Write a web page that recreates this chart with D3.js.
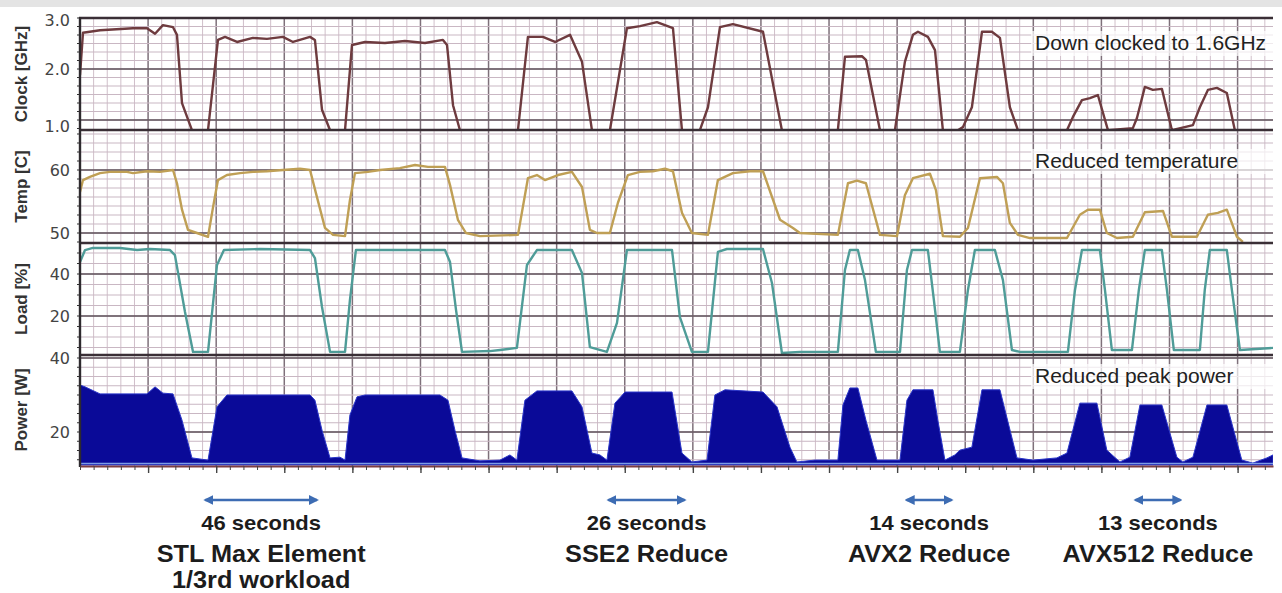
<!DOCTYPE html>
<html>
<head>
<meta charset="utf-8">
<script src="https://cdn.jsdelivr.net/npm/d3@7"></script>
<style>
body { margin: 0; background: #fff; }
svg { display: block; font-family: "Liberation Sans", Arial, sans-serif; }
</style>
</head>
<body>
<script>
// time is in grid units (one minor vertical grid step each)
var clockPts = [[0,1.88],[0.22,2.71],[1.47,2.76],[3.89,2.80],[4.92,2.80],[5.51,2.69],[6.09,2.86],[6.83,2.82],[7.12,2.67],[7.49,1.33],[8.22,0.80],
  [9.40,0.80],[10.13,2.57],[10.65,2.63],[11.53,2.53],[12.70,2.61],[13.73,2.59],[14.90,2.63],[15.64,2.53],[16.89,2.63],[17.25,2.57],[17.77,1.20],[18.36,0.80],
  [19.46,0.80],[19.97,2.47],[20.93,2.53],[22.39,2.51],[23.86,2.55],[25.33,2.51],[26.65,2.57],[26.95,2.47],[27.39,1.29],[27.90,0.80],
  [32.16,0.80],[32.89,2.63],[33.99,2.63],[34.88,2.53],[35.98,2.67],[36.86,2.14],[37.59,0.80],
  [38.91,0.80],[40.16,2.80],[41.12,2.84],[42.36,2.92],[43.54,2.80],[44.20,0.80],
  [45.52,0.80],[46.11,1.25],[46.99,2.82],[47.94,2.88],[50.15,2.73],[51.54,0.80],
  [55.65,0.80],[56.17,2.24],[57.42,2.25],[57.71,2.18],[58.74,0.80],
  [59.84,0.80],[60.57,2.14],[61.16,2.67],[61.53,2.73],[62.26,2.63],[62.78,2.37],[63.36,0.80],
  [64.46,0.80],[64.83,0.86],[65.49,1.25],[66.23,2.73],[66.96,2.73],[67.55,2.61],[68.28,1.25],[68.87,0.80],
  [72.47,0.80],[72.91,1.06],[73.57,1.39],[74.16,1.43],[74.74,1.49],[75.48,0.80],
  [77.31,0.84],[77.61,1.04],[78.19,1.65],[78.78,1.59],[79.44,1.61],[80.18,0.80],
  [81.72,0.90],[82.23,1.25],[82.82,1.59],[83.48,1.63],[84.21,1.53],[84.80,0.80],[87.6,0.80]];

var tempPts = [[0,56.5],[0.22,58.4],[0.73,58.9],[1.47,59.5],[2.20,59.7],[3.45,59.7],[3.89,59.5],[4.92,59.8],[5.87,59.7],[6.83,60.0],[7.12,57.9],[7.49,53.7],[7.93,50.5],[8.59,50.0],
  [9.40,49.4],[9.77,54.1],[10.13,58.4],[10.79,59.2],[11.75,59.5],[12.70,59.7],[13.73,59.8],[14.90,60.0],[16.15,60.2],[16.89,60.0],[17.40,55.7],[17.99,50.8],[18.58,49.7],
  [19.46,49.5],[19.82,55.2],[20.19,59.5],[21.15,59.7],[22.03,60.0],[23.49,60.3],[24.60,60.8],[25.55,60.5],[26.80,60.5],[27.17,57.6],[27.75,52.1],[28.34,50.0],[29.37,49.5],
  [32.16,49.7],[32.89,58.7],[33.55,59.2],[34.14,58.4],[35.10,59.2],[36.12,59.7],[36.86,57.3],[37.44,50.5],[37.96,50.0],
  [38.91,50.0],[39.50,54.8],[40.23,59.2],[41.12,59.7],[42.07,59.8],[42.95,60.2],[43.54,59.8],[44.20,53.2],[44.93,50.0],
  [46.11,49.7],[46.84,58.4],[47.94,59.5],[49.19,59.8],[50.15,59.8],[51.40,52.1],[52.35,50.8],[52.86,50.0],
  [55.65,49.7],[56.39,57.9],[57.05,58.3],[57.71,57.9],[58.74,49.7],
  [59.99,49.5],[60.57,56.0],[61.16,58.7],[62.41,59.4],[62.85,56.8],[63.36,49.5],
  [64.61,49.4],[65.20,50.8],[66.08,58.7],[67.33,58.9],[67.77,57.9],[68.28,51.6],[68.87,49.7],[69.75,49.2],
  [72.47,49.2],[73.42,52.9],[74.01,53.7],[74.89,53.7],[75.40,50.0],[76.14,49.2],
  [77.31,49.4],[78.19,53.3],[79.52,53.5],[80.18,49.4],
  [82.01,49.4],[82.82,52.9],[83.55,53.2],[84.21,53.7],[84.95,49.4],[85.39,48.6]];

var loadPts = [[0,45.7],[0.37,51.4],[0.95,52.4],[2.94,52.4],[4.19,51.4],[5.14,51.9],[6.61,51.4],[6.97,49.0],[7.71,21.9],[8.30,2.9],
  [9.40,2.9],[10.06,44.3],[10.57,51.4],[13.22,51.9],[16.89,51.4],[17.25,47.6],[17.77,24.3],[18.36,2.9],
  [19.46,2.9],[19.82,27.6],[20.26,51.4],[23.49,51.4],[26.80,51.4],[27.17,45.7],[27.61,22.9],[28.05,2.9],
  [30.10,3.3],[30.84,3.8],[32.08,4.8],[32.82,44.3],[33.55,51.4],[36.12,51.4],[36.86,40.5],[37.44,5.2],
  [38.69,2.9],[39.43,16.7],[40.16,51.4],[43.47,51.4],[44.05,19.5],[44.93,2.9],
  [46.11,2.9],[46.84,50.5],[47.50,51.9],[50.15,51.9],[50.81,35.7],[51.54,2.4],
  [52.86,2.9],[55.65,2.9],[56.17,41.9],[56.53,51.4],[57.12,51.4],[57.64,37.1],[58.44,2.9],
  [60.21,2.9],[60.72,41.9],[61.09,51.4],[62.26,51.4],[62.70,27.6],[63.14,2.9],
  [64.61,2.9],[65.20,32.4],[65.71,51.4],[67.18,51.4],[67.77,37.1],[68.43,3.8],[69.02,2.9],
  [72.54,2.9],[73.06,32.4],[73.57,51.4],[74.89,51.4],[75.26,32.4],[75.77,3.8],
  [77.24,3.8],[77.75,32.4],[78.19,51.4],[79.44,51.4],[79.81,32.4],[80.32,3.8],
  [82.23,3.8],[82.59,32.4],[82.96,51.4],[84.21,51.4],[84.58,32.4],[85.17,3.8],[87.6,4.8]];

var powerPts = [[0,32.7],[0.37,32.2],[1.47,30.3],[4.92,30.3],[5.51,32.2],[6.09,30.5],[6.83,30.3],[7.49,23.2],[8.22,13.0],
  [9.40,12.4],[10.06,26.8],[10.79,30.0],[16.89,30.0],[17.25,28.6],[17.77,20.5],[18.36,13.0],[19.09,13.2],
  [19.46,12.4],[19.82,24.6],[20.34,29.5],[20.93,30.0],[26.43,30.0],[27.02,28.6],[27.53,20.5],[28.05,13.0],
  [29.37,12.2],[30.84,12.4],[31.57,13.8],[32.08,12.4],[32.67,28.6],[33.55,31.1],[36.12,31.1],[36.86,26.8],[37.59,14.3],[38.18,13.8],
  [38.69,12.4],[39.28,27.8],[40.02,30.8],[43.47,30.8],[44.20,14.3],[44.93,11.9],
  [46.04,12.4],[46.62,30.0],[47.36,31.4],[50.15,30.8],[51.18,26.8],[52.13,15.9],[52.64,11.9],
  [53.96,12.4],[55.65,12.4],[56.02,27.3],[56.53,31.9],[57.12,31.9],[57.71,23.2],[58.52,12.4],
  [60.21,12.4],[60.72,28.6],[61.16,31.4],[62.63,31.4],[62.99,23.2],[63.51,12.4],
  [64.24,13.8],[64.61,15.1],[65.49,15.9],[66.23,31.4],[67.55,31.4],[68.80,13.0],
  [69.97,12.4],[71.73,13.0],[72.47,14.3],[73.42,27.8],[74.67,27.8],[75.40,15.1],[76.36,11.9],
  [77.09,13.2],[77.83,27.3],[79.44,27.3],[80.54,13.2],[80.98,11.9],
  [81.72,13.2],[82.75,27.3],[84.21,27.3],[85.31,12.4],[86.12,11.6],[87.15,13.0],[87.6,13.8]];

var clockTicks = [1, 2, 3];
var tempTicks = [50, 60];
var loadTicks = [20, 40];
var powerTicks = [20, 40];

var panelTitles = ["Clock [GHz]", "Temp [C]", "Load [%]", "Power [W]"];
var panelNotes = ["Down clocked to 1.6GHz", "Reduced temperature", "", "Reduced peak power"];

var spanStart = [9.2, 38.8, 60.7, 77.5];
var spanEnd = [17.4, 44.4, 64.0, 80.8];
var spanDurations = ["46 seconds", "26 seconds", "14 seconds", "13 seconds"];
var spanTitles = [["STL Max Element", "1/3rd workload"], ["SSE2 Reduce"], ["AVX2 Reduce"], ["AVX512 Reduce"]];

var W = 1282, H = 593;
var left = 80, right = 1273;

var svg = d3.select("body").append("svg")
  .attr("width", W)
  .attr("height", H);

svg.append("rect").attr("width", W).attr("height", 7).attr("fill", "#e4e4e4");

var x = d3.scaleLinear().domain([0, 87.6]).range([left, right]);

var panels = [
  {top: 18, bottom: 130, y: d3.scaleLinear().domain([1, 3]).range([120, 18]), ticks: clockTicks, fmt: d3.format(".1f"), step: 1/6},
  {top: 130, bottom: 243, y: d3.scaleLinear().domain([50, 60]).range([233, 170]), ticks: tempTicks, fmt: d3.format("d"), step: 10/7},
  {top: 243, bottom: 355, y: d3.scaleLinear().domain([20, 40]).range([316, 274]), ticks: loadTicks, fmt: d3.format("d"), step: 5},
  {top: 355, bottom: 465, y: d3.scaleLinear().domain([20, 40]).range([432, 358]), ticks: powerTicks, fmt: d3.format("d"), step: 2.5}
];

var grid = svg.append("g");

// vertical grid, darker every fifth line
grid.selectAll(".vminor")
  .data(d3.range(1, 88))
  .enter().append("line")
    .attr("x1", d => x(d)).attr("x2", d => x(d))
    .attr("y1", 18).attr("y2", 466)
    .attr("stroke", d => d % 5 == 0 ? "#7e707a" : "#d0bfca")
    .attr("stroke-width", d => d % 5 == 0 ? 1.5 : 1);

panels.forEach(function(p, i) {
  var lo = p.y.invert(p.bottom), hi = p.y.invert(p.top);
  var vals = [];
  for (var v = Math.ceil(lo / p.step) * p.step; v <= hi + 1e-6; v += p.step) vals.push(v);

  // minor horizontal grid
  grid.selectAll(".h" + i)
    .data(vals.filter(v => Math.abs(p.y(v) - p.top) > 2 && Math.abs(p.y(v) - p.bottom) > 2))
    .enter().append("line")
      .attr("x1", left).attr("x2", right)
      .attr("y1", d => p.y(d)).attr("y2", d => p.y(d))
      .attr("stroke", "#c9b7c3");

  // darker lines on labelled values
  grid.selectAll(".hm" + i)
    .data(p.ticks.filter(v => p.y(v) > p.top + 2 && p.y(v) < p.bottom - 2))
    .enter().append("line")
      .attr("x1", left).attr("x2", right)
      .attr("y1", d => p.y(d)).attr("y2", d => p.y(d))
      .attr("stroke", "#5e5058")
      .attr("stroke-width", 1.6);

  // small left ticks
  svg.selectAll(".lt" + i)
    .data(vals)
    .enter().append("line")
      .attr("x1", left - 3).attr("x2", left)
      .attr("y1", d => p.y(d)).attr("y2", d => p.y(d))
      .attr("stroke", "#333");

  svg.append("defs").append("clipPath").attr("id", "clip" + i)
    .append("rect").attr("x", left).attr("y", p.top).attr("width", right - left).attr("height", p.bottom - p.top + 1);
});

var line = function(p) {
  return d3.line().x(d => x(d[0])).y(d => p.y(d[1]));
};

svg.append("path")
  .datum(clockPts)
  .attr("clip-path", "url(#clip0)")
  .attr("d", line(panels[0]))
  .attr("fill", "none")
  .attr("stroke", "#6e3b3f")
  .attr("stroke-width", 2.4)
  .attr("stroke-linejoin", "round");

svg.append("path")
  .datum(tempPts)
  .attr("clip-path", "url(#clip1)")
  .attr("d", line(panels[1]))
  .attr("fill", "none")
  .attr("stroke", "#bf9f55")
  .attr("stroke-width", 2.4)
  .attr("stroke-linejoin", "round");

svg.append("path")
  .datum(loadPts)
  .attr("clip-path", "url(#clip2)")
  .attr("d", line(panels[2]))
  .attr("fill", "none")
  .attr("stroke", "#4f9c98")
  .attr("stroke-width", 2.4)
  .attr("stroke-linejoin", "round");

var area = d3.area()
  .x(d => x(d[0]))
  .y0(panels[3].bottom)
  .y1(d => panels[3].y(d[1]));

svg.append("path")
  .datum(powerPts)
  .attr("clip-path", "url(#clip3)")
  .attr("d", area)
  .attr("fill", "#0a0a98")
  .attr("stroke", "#2a35c8")
  .attr("stroke-width", 1);

// thin light-blue baseline of the power series
svg.append("line")
  .attr("x1", left).attr("x2", right)
  .attr("y1", 463.5).attr("y2", 463.5)
  .attr("stroke", "#7c9ce6")
  .attr("stroke-width", 1.5);

// panel borders
svg.selectAll(".border")
  .data([18, 130, 243, 355])
  .enter().append("line")
    .attr("x1", left - 1).attr("x2", right)
    .attr("y1", d => d).attr("y2", d => d)
    .attr("stroke", "#3a2f36")
    .attr("stroke-width", 2.6);

svg.append("line")
  .attr("x1", left).attr("x2", left)
  .attr("y1", 17).attr("y2", 467)
  .attr("stroke", "#2e2a2e")
  .attr("stroke-width", 2.4);

// x axis: minor and major ticks, no labels
var xAxis = svg.append("g")
  .attr("transform", "translate(0,466)")
  .call(d3.axisBottom(x).tickValues(d3.range(0, 88)).tickSize(4).tickFormat("").tickSizeOuter(0));
xAxis.select(".domain").attr("stroke", "#7d3d42").attr("stroke-width", 2);
xAxis.selectAll(".tick line").attr("stroke", "#444");

svg.append("g")
  .attr("transform", "translate(0,466)")
  .call(d3.axisBottom(x).tickValues(d3.range(5, 88, 5)).tickSize(7).tickFormat("").tickSizeOuter(0))
  .call(g => g.select(".domain").remove())
  .selectAll(".tick line").attr("stroke", "#444").attr("stroke-width", 1.4);

// tick labels and panel titles
panels.forEach(function(p, i) {
  svg.selectAll(".tl" + i)
    .data(p.ticks)
    .enter().append("text")
      .attr("x", 70)
      .attr("y", d => p.y(d))
      .attr("dy", d => (i == 0 && d == 1) ? "0.75em" : (i == 0 && d == 3) ? "0.5em" : "0.36em")
      .attr("text-anchor", "end")
      .style("font-family", "'DejaVu Sans', sans-serif")
      .style("font-size", "16px")
      .attr("fill", "#444")
      .text(d => p.fmt(d));

  svg.append("text")
    .attr("transform", "translate(21," + ((p.top + p.bottom) / 2) + ") rotate(-90)")
    .attr("text-anchor", "middle")
    .attr("dy", "0.35em")
    .style("font-size", "17px")
    .style("font-weight", "bold")
    .attr("fill", "#333")
    .text(panelTitles[i]);

  if (panelNotes[i]) {
    var base = [50, 168, 0, 383][i];
    svg.append("rect")
      .attr("x", 1031).attr("y", base - 19)
      .attr("width", 242).attr("height", 25)
      .attr("fill", "#fff").attr("opacity", 0.7);
    svg.append("text")
      .attr("x", 1035).attr("y", base)
      .style("font-size", "21px")
      .attr("fill", "#222")
      .text(panelNotes[i]);
  }
});

// span annotations below the chart
var defs = svg.append("defs");
defs.append("marker")
  .attr("id", "head")
  .attr("viewBox", "0 0 10 10")
  .attr("refX", 8).attr("refY", 5)
  .attr("markerWidth", 4).attr("markerHeight", 4)
  .attr("orient", "auto-start-reverse")
  .append("path").attr("d", "M0,0L10,5L0,10z").attr("fill", "#3d6cb3");

var spans = svg.selectAll(".span")
  .data(spanStart.map((s, i) => i))
  .enter().append("g");

spans.append("line")
  .attr("x1", i => x(spanStart[i])).attr("x2", i => x(spanEnd[i]))
  .attr("y1", 500).attr("y2", 500)
  .attr("stroke", "#3d6cb3")
  .attr("stroke-width", 2.5)
  .attr("marker-start", "url(#head)")
  .attr("marker-end", "url(#head)");

spans.append("text")
  .attr("transform", i => "translate(" + x((spanStart[i] + spanEnd[i]) / 2) + ",530) scale(1.1,1)")
  .attr("text-anchor", "middle")
  .style("font-size", "20px")
  .style("font-weight", "bold")
  .attr("fill", "#1c1c1c")
  .text(i => spanDurations[i]);

spans.each(function(i) {
  d3.select(this).selectAll(".title")
    .data(spanTitles[i])
    .enter().append("text")
      .attr("transform", (d, k) => "translate(" + x((spanStart[i] + spanEnd[i]) / 2) + "," + (562 + k * 26) + ") scale(1.1,1)")
      .attr("text-anchor", "middle")
      .style("font-size", "23px")
      .style("font-weight", "bold")
      .attr("fill", "#1c1c1c")
      .text(d => d);
});
</script>
</body>
</html>
